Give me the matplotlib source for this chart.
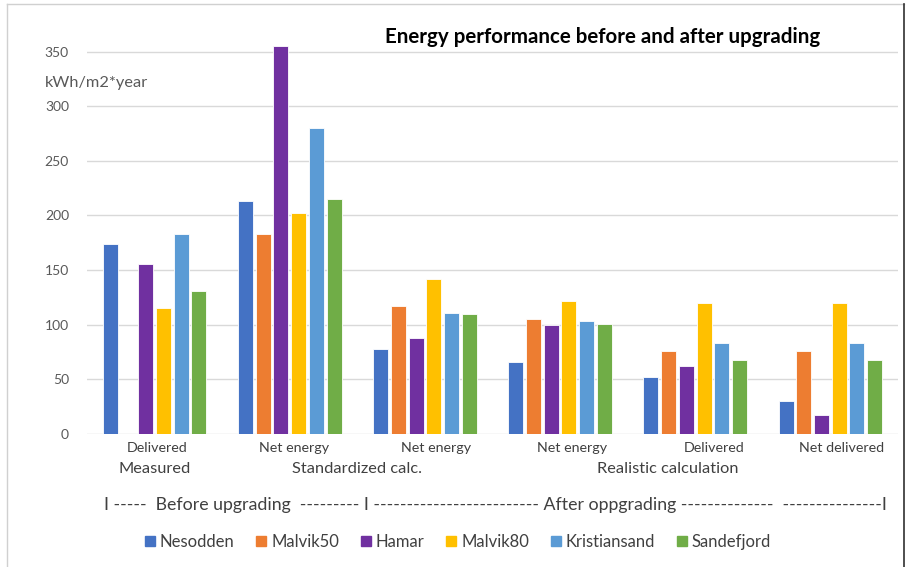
import numpy as np
import matplotlib
matplotlib.use("Agg")
import matplotlib.pyplot as plt
from matplotlib.lines import Line2D
from matplotlib.patches import Patch

plt.rcParams['font.family'] = ['Lato', 'DejaVu Sans']

measures = ["Delivered", "Net energy", "Net energy", "Net energy", "Delivered", "Net delivered"]
methods = ["Measured", "Standardized calc.", "Realistic calculation"]
sites = ["Nesodden", "Malvik50", "Hamar", "Malvik80", "Kristiansand", "Sandefjord"]
colors = ["#4472C4", "#ED7D31", "#7030A0", "#FFC000", "#5B9BD5", "#70AD47"]

# kWh/m2*year, one list per site, one value per measure
nesodden = [174, 213, 78, 66, 52, 30]
malvik50 = [0, 183, 117, 105, 76, 76]
hamar = [156, 355, 88, 100, 62, 17]
malvik80 = [115, 202, 142, 122, 120, 120]
kristiansand = [183, 280, 111, 103, 83, 83]
sandefjord = [131, 215, 110, 101, 68, 68]
values = [nesodden, malvik50, hamar, malvik80, kristiansand, sandefjord]

fig = plt.figure(figsize=(9.07, 5.67), dpi=100)
ax = fig.add_axes([87/907, 0.2346, 811/907, 0.7034])

x = np.arange(len(measures))
step, width = 0.131, 0.111
for j, (name, vals) in enumerate(zip(sites, values)):
    ax.bar(x + (j - 2.5) * step, vals, width, color=colors[j], label=name,
           edgecolor="white", linewidth=0.6, zorder=3)

ax.set_xlim(-0.5, len(measures) - 0.5)
ax.set_ylim(0, 365)
ax.set_yticks(range(0, 351, 50))
ax.yaxis.grid(True, color="#D9D9D9", lw=1, zorder=0)
for s in ax.spines.values():
    s.set_visible(False)
ax.tick_params(axis="y", length=0, labelsize=10, labelcolor="#595959", pad=13)
ax.set_xticks([])

fig.text(45/907, 1 - 83/567, "kWh/m2*year", fontsize=11.8, color="#595959",
         ha="left", va="center")
fig.text(0.664, 0.934, "Energy performance before and after upgrading",
         fontsize=14.8, fontweight="bold", ha="center", va="center")

# two-level category labels
shift = [0.02, 0.03, 0.08, 0.09, 0.14, 0.08]
for i, lab in enumerate(measures):
    ax.text(i + shift[i], -0.035, lab, transform=ax.get_xaxis_transform(),
            ha="center", va="center", fontsize=10.3, color="#404040")
for xc, lab in zip([0.0, 1.5, 3.8], methods):
    ax.text(xc, -0.087, lab, transform=ax.get_xaxis_transform(),
            ha="center", va="center", fontsize=11.8, color="#404040")

fig.text(0.1146, 0.109,
         "I -----  Before upgrading  --------- I ------------------------- "
         "After oppgrading --------------  ---------------I",
         fontsize=12.8, color="#404040", ha="left", va="center")

handles = [Patch(color=c) for c in colors]
fig.legend(handles, sites, loc="center", bbox_to_anchor=(0.505, 0.044), ncol=6,
           frameon=False, fontsize=12, handlelength=0.6, handleheight=0.6,
           handletextpad=0.3, columnspacing=1.3, labelcolor="#404040")

# chart frame
fig.add_artist(Line2D([7/907, 7/907], [0, 1 - 4/567], color="#D0D0D0", lw=1))
fig.add_artist(Line2D([7/907, 904/907], [1 - 4/567, 1 - 4/567], color="#D0D0D0", lw=1))
fig.add_artist(Line2D([904/907, 904/907], [0, 1 - 4/567], color="#303030", lw=1.2))

fig.savefig("out.png", dpi=100)
